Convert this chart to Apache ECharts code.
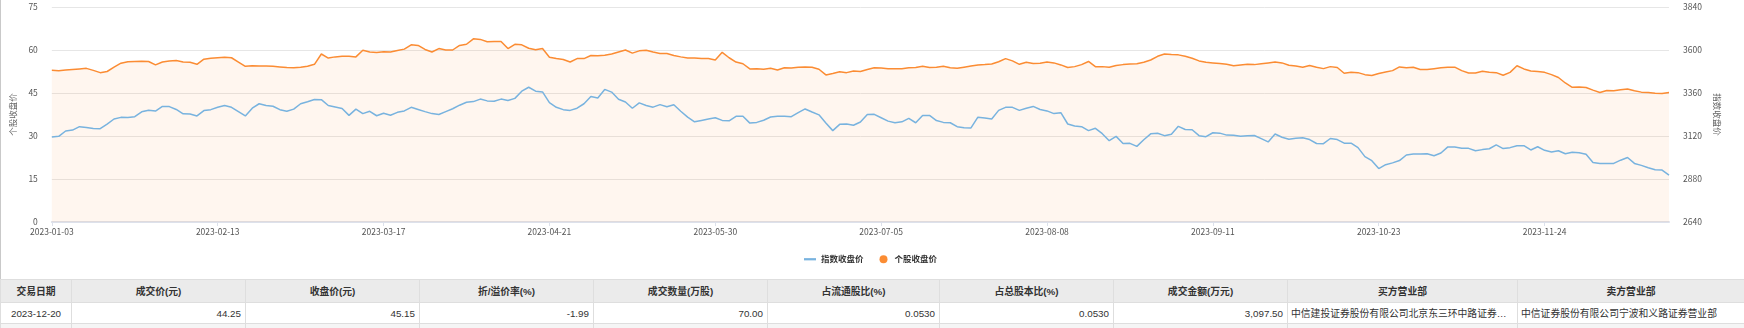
<!DOCTYPE html>
<html>
<head>
<meta charset="utf-8">
<script src="https://cdn.jsdelivr.net/npm/echarts@6/dist/echarts.min.js"></script>
<style>
html,body{margin:0;padding:0;background:#fff;width:1744px;height:328px;overflow:hidden;}
#wrap{position:absolute;left:0;top:0;width:1744px;height:279px;border-left:1px solid #c9c9c9;box-sizing:border-box;}
#chart{position:absolute;left:0;top:0;width:1743px;height:279px;}
table{position:absolute;left:0;top:279px;border-collapse:collapse;table-layout:fixed;width:1744px;
  font-family:"Liberation Sans","Noto Sans CJK SC",sans-serif;font-size:9.8px;color:#333;}
th,td{border:1px solid #dedede;padding:0 4px;white-space:nowrap;overflow:hidden;text-overflow:ellipsis;}
th{background:#ebebeb;height:22px;font-weight:bold;text-align:center;}
td{height:20px;text-align:right;}
td.c{text-align:center;}
td.l{text-align:left;padding-left:3px;}
tr.g td{background:#f5f5f5;height:20px;}
</style>
</head>
<body>
<div id="wrap"><div id="chart"></div></div>
<table id="tbl">
<colgroup>
<col style="width:71px"><col style="width:174px"><col style="width:174px"><col style="width:174px"><col style="width:174px">
<col style="width:172px"><col style="width:174px"><col style="width:174px"><col style="width:230px"><col style="width:227px">
</colgroup>
<thead><tr id="hdr"></tr></thead>
<tbody><tr id="row"></tr><tr class="g" id="row2"></tr></tbody>
</table>
<script>
// ---- data ----
const holidays = ['2023-01-02','2023-01-23','2023-01-24','2023-01-25','2023-01-26','2023-01-27',
  '2023-04-05','2023-05-01','2023-05-02','2023-05-03','2023-06-22','2023-06-23',
  '2023-09-29','2023-10-02','2023-10-03','2023-10-04','2023-10-05','2023-10-06'];
const firstDay = '2023-01-03';
const lastDay = '2023-12-20';

// 个股收盘价 (left axis)
const stockClose = [
52.9,52.8,53.0,53.2,53.4,53.6,52.9,52.1,52.5,54.0,
55.4,55.9,56.0,56.1,56.0,54.8,55.8,56.2,56.3,55.8,
55.7,55.0,56.8,57.1,57.3,57.5,57.3,55.8,54.3,54.5,
54.4,54.4,54.3,54.1,53.9,53.8,54.0,54.3,55.0,58.6,
57.2,57.6,57.8,57.8,57.6,59.9,59.3,59.1,59.4,59.3,
59.8,60.3,61.8,61.6,60.2,59.3,60.5,60.0,60.0,61.6,
62.0,63.9,63.7,62.9,63.0,63.0,60.5,62.0,61.8,60.6,
60.1,60.5,57.5,57.0,56.7,55.8,57.0,57.0,58.1,58.0,
58.2,58.6,59.3,60.0,58.9,59.7,59.9,59.3,58.8,58.8,
58.1,57.6,57.2,57.2,57.0,57.0,56.5,59.2,57.3,55.8,
55.2,53.4,53.5,53.3,53.6,53.0,53.8,53.7,54.0,54.1,
54.0,53.3,51.3,51.8,52.4,52.1,52.7,52.5,53.2,53.8,
53.7,53.5,53.5,53.5,53.8,53.9,54.3,53.9,54.0,54.3,
53.8,53.6,54.0,54.4,54.8,54.9,55.1,55.9,57.0,56.2,
55.0,55.7,55.3,55.4,55.8,55.5,54.8,53.9,54.2,54.9,
56.0,54.2,54.2,54.0,54.6,54.9,55.1,55.2,55.7,56.5,
57.8,58.6,58.4,58.3,57.8,57.1,56.2,55.7,55.5,55.3,
55.0,54.5,54.8,55.0,54.9,55.2,55.5,55.8,55.5,54.7,
54.4,54.0,54.6,54.0,53.5,54.2,53.9,51.9,52.2,52.1,
51.4,51.1,51.8,52.3,52.8,54.1,53.8,54.0,53.2,53.2,
53.5,53.8,54.0,54.0,52.8,52.0,52.0,52.6,52.2,52.1,
51.2,52.2,54.5,53.4,52.7,52.5,52.2,51.4,50.4,48.5,
47.0,47.1,46.9,46.0,45.2,45.9,45.8,46.1,46.4,45.8,
45.3,45.2,44.9,44.8,45.15];

// 指数收盘价 (right axis)
const indexClose = [
3114,3118,3148,3153,3172,3168,3162,3161,3186,3215,
3224,3223,3228,3255,3264,3259,3285,3284,3268,3244,
3243,3232,3262,3267,3280,3290,3280,3256,3232,3275,
3300,3290,3286,3267,3258,3270,3300,3311,3324,3323,
3290,3282,3274,3235,3270,3245,3258,3233,3247,3236,
3252,3260,3280,3268,3256,3245,3240,3256,3272,3292,
3308,3312,3326,3316,3314,3326,3318,3330,3370,3392,
3370,3366,3306,3280,3267,3263,3275,3300,3340,3332,
3380,3365,3325,3310,3275,3305,3290,3281,3295,3283,
3294,3258,3225,3199,3207,3215,3222,3207,3205,3230,
3230,3192,3196,3208,3226,3230,3230,3228,3250,3271,
3254,3238,3193,3150,3185,3187,3180,3198,3240,3241,
3222,3203,3194,3199,3218,3194,3235,3235,3206,3196,
3194,3172,3166,3165,3225,3220,3215,3263,3280,3280,
3263,3275,3285,3268,3260,3245,3250,3187,3176,3172,
3150,3163,3133,3094,3118,3078,3079,3062,3099,3132,
3135,3122,3130,3174,3156,3155,3122,3116,3138,3136,
3125,3124,3118,3122,3123,3105,3087,3131,3113,3102,
3107,3110,3100,3078,3077,3106,3100,3080,3080,3055,
3005,2982,2938,2960,2970,2983,3014,3019,3019,3021,
3010,3025,3059,3059,3052,3051,3038,3044,3049,3070,
3050,3055,3066,3066,3042,3060,3040,3031,3038,3021,
3029,3027,3018,2972,2967,2966,2967,2985,3000,2967,
2956,2943,2932,2930,2902];

const leftTicks = {min:0, max:75, interval:15};
const rightTicks = {min:2640, max:3840, interval:240};

const tableHeaders = ['交易日期','成交价(元)','收盘价(元)','折/溢价率(%)','成交数量(万股)','占流通股比(%)','占总股本比(%)','成交金额(万元)','买方营业部','卖方营业部'];
const tableRow = ['2023-12-20','44.25','45.15','-1.99','70.00','0.0530','0.0530','3,097.50','中信建投证券股份有限公司北京东三环中路证券营业部','中信证券股份有限公司宁波和义路证券营业部'];

// ---- trading-day categories (weekdays minus exchange holidays) ----
const categories = [];
(function(){
  const d = new Date(firstDay + 'T00:00:00Z');
  const end = new Date(lastDay + 'T00:00:00Z');
  while (d <= end) {
    const s = d.toISOString().slice(0,10);
    const w = d.getUTCDay();
    if (w !== 0 && w !== 6 && holidays.indexOf(s) < 0) categories.push(s);
    d.setUTCDate(d.getUTCDate()+1);
  }
})();

// ---- table ----
const hdr = document.getElementById('hdr');
tableHeaders.forEach(h => { const th = document.createElement('th'); th.textContent = h; hdr.appendChild(th); });
const row = document.getElementById('row');
tableRow.forEach((v,i) => {
  const td = document.createElement('td'); td.textContent = v;
  if (i === 0) td.className = 'c'; else if (i >= 8) td.className = 'l';
  row.appendChild(td);
});
const row2 = document.getElementById('row2');
tableHeaders.forEach(() => { const td = document.createElement('td'); td.innerHTML = '&nbsp;'; row2.appendChild(td); });

// ---- chart ----
const FONT = '"Noto Sans CJK SC", sans-serif';
const ORANGE = '#fb8c33';
const BLUE = '#78b3df';
const chart = echarts.init(document.getElementById('chart'), null, {renderer:'canvas'});
chart.setOption({
  animation: false,
  textStyle: {fontFamily: FONT},
  grid: {left: 49, right: 75, top: 7, bottom: 57, containLabel: false},
  legend: {
    top: 250, left: 798, itemGap: 16, itemWidth: 12, itemHeight: 8,
    symbolKeepAspect: true,
    textStyle: {fontSize: 8.5, color: '#333', fontWeight: 'bold', fontFamily: FONT},
    data: [{name: '指数收盘价', icon: 'path://M0,0H16V3H0Z'}, {name: '个股收盘价', icon: 'circle'}]
  },
  xAxis: {
    type: 'category', data: categories, boundaryGap: false,
    axisLine: {lineStyle: {color: '#dde1eb', width: 2}},
    axisTick: {interval: 23, length: 4, lineStyle: {color: '#dde1eb'}},
    axisLabel: {interval: 23, fontSize: 8.5, color: '#555', margin: 6, fontFamily: FONT},
    splitLine: {show: false}
  },
  yAxis: [{
    type: 'value', min: leftTicks.min, max: leftTicks.max, interval: leftTicks.interval,
    name: '个股收盘价', nameLocation: 'middle', nameGap: 31,
    nameTextStyle: {fontSize: 8.5, color: '#666', fontFamily: FONT},
    axisLabel: {fontSize: 8.5, color: '#555', margin: 14, fontFamily: FONT},
    axisLine: {show: false}, axisTick: {show: false},
    splitLine: {lineStyle: {color: '#e6e6e6'}}
  }, {
    type: 'value', min: rightTicks.min, max: rightTicks.max, interval: rightTicks.interval,
    name: '指数收盘价', nameLocation: 'middle', nameGap: 41, nameRotate: -90,
    nameTextStyle: {fontSize: 8.5, color: '#666', fontFamily: FONT},
    axisLabel: {fontSize: 8.5, color: '#555', margin: 14, fontFamily: FONT, formatter: v => String(v)},
    axisLine: {show: false}, axisTick: {show: false},
    splitLine: {show: false}
  }],
  series: [{
    name: '个股收盘价', type: 'line', yAxisIndex: 0, data: stockClose,
    symbol: 'none', smooth: false, z: 2,
    lineStyle: {color: ORANGE, width: 1.5}, itemStyle: {color: ORANGE},
    areaStyle: {color: 'rgba(251,140,51,0.11)'}
  }, {
    name: '指数收盘价', type: 'line', yAxisIndex: 1, data: indexClose,
    symbol: 'none', smooth: false, z: 3,
    lineStyle: {color: BLUE, width: 1.5}, itemStyle: {color: BLUE}
  }]
});
</script>
</body>
</html>
